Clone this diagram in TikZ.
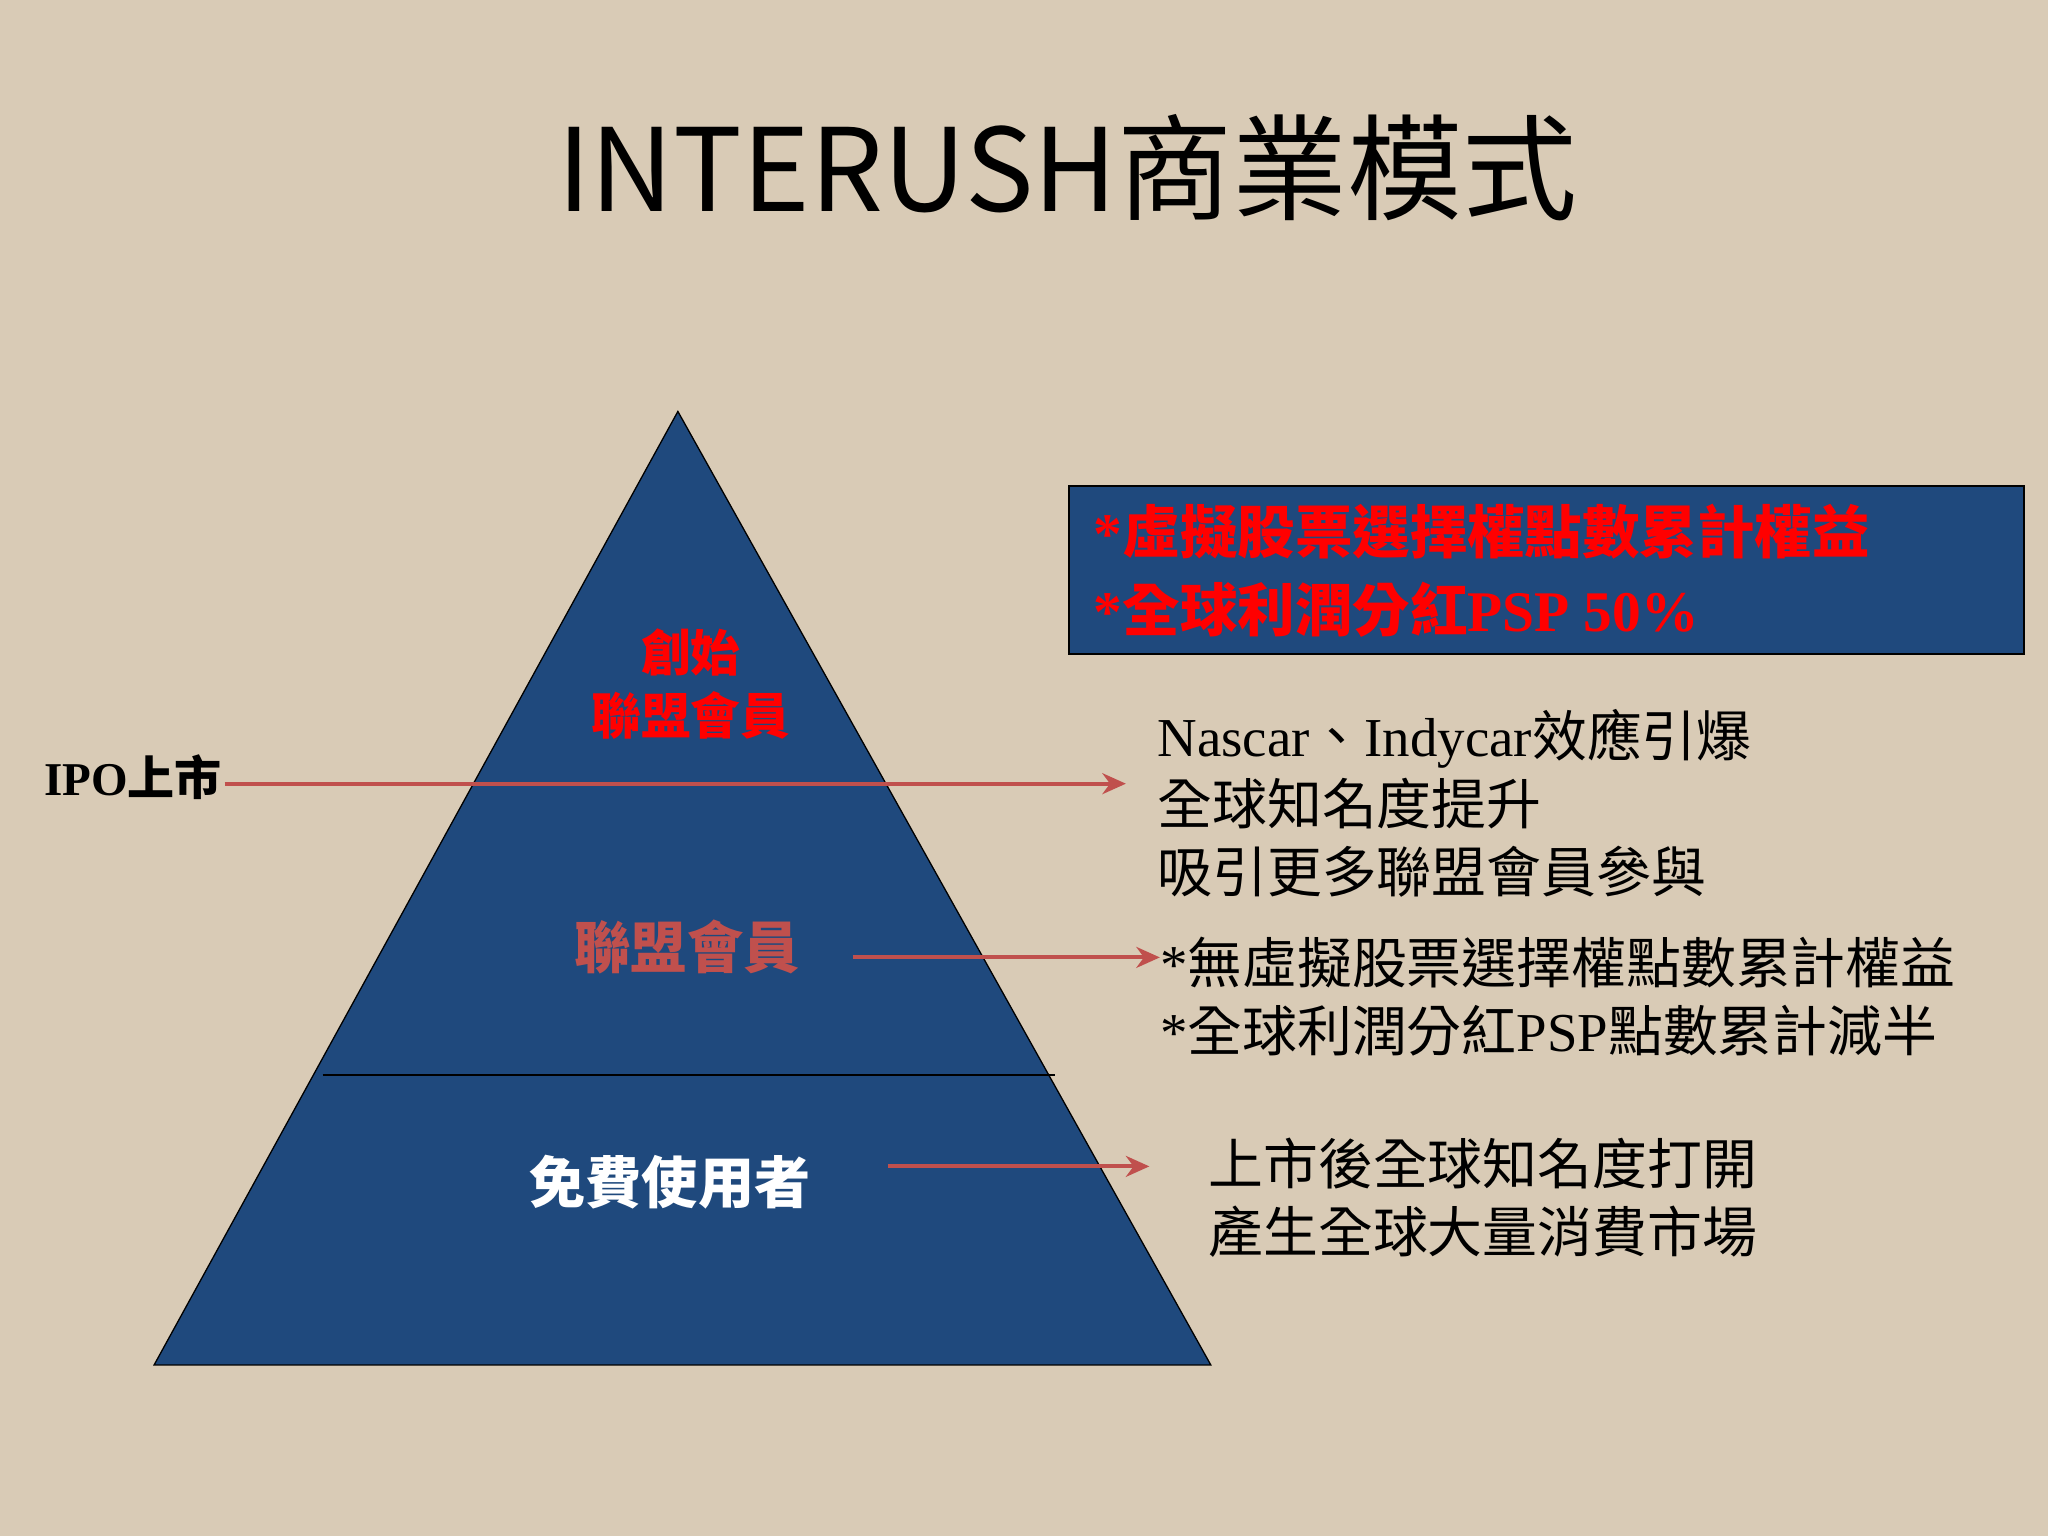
\documentclass[tikz,border=0pt]{standalone}
\usepackage{fontspec}
\setmainfont{Liberation Serif}
\newfontfamily\cjk{Noto Sans CJK TC}
\usetikzlibrary{arrows.meta}
\definecolor{bg}{HTML}{D9CBB6}
\definecolor{pyr}{HTML}{1F497D}
\definecolor{arr}{HTML}{C0504D}
\tikzset{conn/.style={draw=arr,line width=3pt,-{Stealth[length=18pt,width=16pt]}},
 rt/.style={anchor=west,font=\fontsize{42}{52}\selectfont,align=left,inner sep=0}}
\begin{document}
\begin{tikzpicture}[x=1pt,y=-1pt]
\fill[bg] (0,0) rectangle (1568,1176);
\useasboundingbox (0,0) rectangle (1568,1176);
\node (title) at (817,128) {\fontsize{88}{100}\selectfont\cjk INTERUSH商業模式};
\fill[pyr,draw=black,line width=1pt] (519,315) -- (927,1045) -- (118,1045) -- cycle;
\draw[black,line width=1.5pt] (247,823) -- (808,823);
\node[draw=black,fill=pyr,line width=1.5pt,minimum width=731,minimum height=129,anchor=north west] (box) at (818,371) {};
\node[anchor=west,text=red,align=left,font=\fontsize{44}{60}\selectfont\bfseries] (boxt) at (834,437) {*{\cjk\bfseries 虛擬股票選擇權點數累計權益}\\*{\cjk\bfseries 全球利潤分紅}PSP 50\%};
\node[text=red,align=center,font=\fontsize{38}{48}\selectfont\cjk\bfseries] (top) at (529,524) {創始\\聯盟會員};
\node[text=arr,font=\fontsize{43}{46}\selectfont\cjk\bfseries] (mid) at (526,725) {聯盟會員};
\node[text=white,font=\fontsize{43}{46}\selectfont\cjk\bfseries] (bot) at (513,905) {免費使用者};
\node[font=\fontsize{36}{40}\selectfont\bfseries,anchor=east,inner sep=2pt] (ipo) at (172,595) {IPO{\cjk 上市}};
\node[rt] (r1) at (886,615) {Nascar{\cjk 、}Indycar{\cjk 效應引爆}\\{\cjk 全球知名度提升}\\{\cjk 吸引更多聯盟會員參與}};
\node[rt] (r2) at (888,763) {*{\cjk 無虛擬股票選擇權點數累計權益}\\*{\cjk 全球利潤分紅}PSP{\cjk 點數累計減半}};
\node[rt,font=\fontsize{42}{52}\selectfont\cjk] (r3) at (925,917) {上市後全球知名度打開\\產生全球大量消費市場};
\draw[conn] (ipo.east|-0,600) -- (862,600);
\draw[conn] (653,733) -- (r2.west|-0,733);
\draw[conn] (680,893) -- (880,893);
\end{tikzpicture}
\end{document}
